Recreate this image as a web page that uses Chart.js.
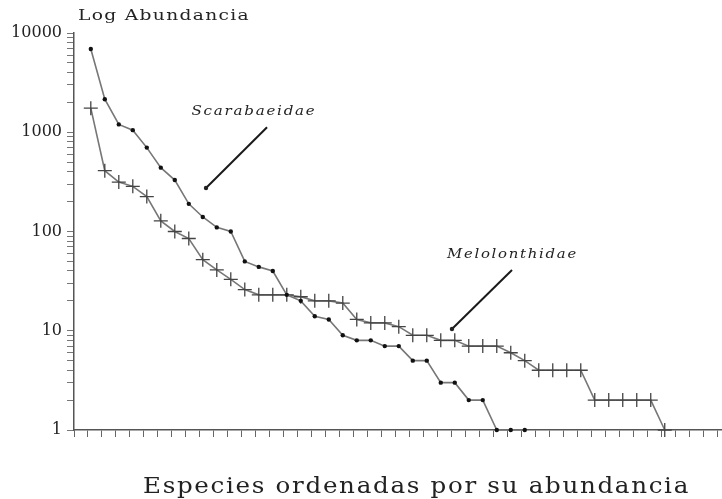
<!DOCTYPE html>
<html>
<head>
<meta charset="utf-8">
<script src="https://cdn.jsdelivr.net/npm/chart.js@4/dist/chart.umd.min.js"></script>
<style>
  body { margin: 0; background: #fff; }
  canvas { display: block; }
</style>
</head>
<body>
<canvas id="abundChart" width="722" height="499"></canvas>
<script>
// Species abundance per rank
const scarabaeidae = [6900, 2150, 1200, 1050, 700, 440, 330, 190, 140, 110, 100, 50, 44, 40, 23, 20,
  14, 13, 9, 8, 8, 7, 7, 5, 5, 3, 3, 2, 2, 1, 1, 1];
const melolonthidae = [1750, 410, 315, 285, 225, 128, 100, 85, 52, 41, 33, 26, 23, 23, 23, 22,
  20, 20, 19, 13, 12, 12, 11, 9, 9, 8, 8, 7, 7, 7, 6, 5, 4, 4, 4, 4, 2, 2, 2, 2, 2, 1];
const yMajorTicks = [1, 10, 100, 1000, 10000];
const yMinorSteps = [2, 3, 4, 5, 6, 7, 8, 9];
const xTickCount = 47;
const xShift = 0.2;

const yTicks = [];
yMajorTicks.forEach(function(m) {
  yTicks.push(m);
  if (m < 10000) yMinorSteps.forEach(function(s) { yTicks.push(m * s); });
});
const xTicks = [];
for (let k = 0; k < xTickCount; k++) xTicks.push(k - xShift);

function toPoints(arr) {
  return arr.map(function(v, i) { return { x: i + 1, y: v }; });
}

// draws text stretched horizontally so it spans the given width (wide slab face in the original)
function wideText(ctx, text, left, baseline, width, spacing) {
  ctx.letterSpacing = (spacing || 0) + 'px';
  const w = ctx.measureText(text).width;
  ctx.save();
  ctx.translate(left, baseline);
  ctx.scale(width / w, 1);
  ctx.textAlign = 'left';
  ctx.textBaseline = 'alphabetic';
  ctx.fillText(text, 0, 0);
  ctx.restore();
  ctx.letterSpacing = '0px';
}

const textPlugin = {
  id: 'texts',
  afterDraw(chart) {
    const ctx = chart.ctx;
    const xs = chart.scales.x, ys = chart.scales.y;
    const area = chart.chartArea;
    ctx.save();
    ctx.fillStyle = '#222';
    ctx.font = '14px "DejaVu Serif"';
    wideText(ctx, 'Log Abundancia', area.left + 4, area.top - 13, 172, 1);
    ctx.font = '22px "DejaVu Serif"';
    wideText(ctx, 'Especies ordenadas por su abundancia', 143, 493, 547, 1.5);

    // series labels with pointer lines
    const notes = [
      { text: 'Scarabaeidae', x: 12.66, y: 1670, w: 125, from: [13.59, 1125], to: [9.23, 274] },
      { text: 'Melolonthidae', x: 31.12, y: 60.6, w: 131, from: [31.09, 40.9], to: [26.8, 10.4] }
    ];
    notes.forEach(function(n) {
      ctx.font = 'italic 13px "DejaVu Serif"';
      const cx = xs.getPixelForValue(n.x), cy = ys.getPixelForValue(n.y);
      wideText(ctx, n.text, cx - n.w / 2, cy + 5, n.w, 1.5);
      const x1 = xs.getPixelForValue(n.from[0]), y1 = ys.getPixelForValue(n.from[1]);
      const x2 = xs.getPixelForValue(n.to[0]), y2 = ys.getPixelForValue(n.to[1]);
      ctx.strokeStyle = '#1a1a1a';
      ctx.lineWidth = 2;
      ctx.beginPath();
      ctx.moveTo(x1, y1);
      ctx.lineTo(x2, y2);
      ctx.stroke();
      ctx.beginPath();
      ctx.arc(x2, y2, 2.2, 0, Math.PI * 2);
      ctx.fill();
    });
    ctx.restore();
  }
};

const ctx = document.getElementById('abundChart').getContext('2d');
const abundChart = new Chart(ctx, {
  type: 'line',
  data: {
    datasets: [{
      label: 'Scarabaeidae',
      data: toPoints(scarabaeidae),
      borderColor: '#777',
      borderWidth: 1.6,
      pointStyle: 'circle',
      pointRadius: 2.2,
      pointBackgroundColor: '#111',
      pointBorderColor: '#111',
      pointBorderWidth: 0,
      tension: 0,
      clip: false
    }, {
      label: 'Melolonthidae',
      data: toPoints(melolonthidae),
      borderColor: '#777',
      borderWidth: 1.6,
      pointStyle: 'cross',
      pointRadius: 7,
      pointBorderColor: '#444',
      pointBorderWidth: 1.3,
      tension: 0,
      clip: false
    }]
  },
  options: {
    responsive: false,
    animation: false,
    devicePixelRatio: 1,
    layout: { autoPadding: false, padding: { top: 33, right: 0, bottom: 0, left: 0 } },
    plugins: {
      legend: { display: false },
      tooltip: { enabled: false }
    },
    scales: {
      x: {
        type: 'linear',
        min: -xShift,
        max: 46.29 - xShift,
        afterBuildTicks: function(scale) {
          scale.ticks = xTicks.map(function(v) { return { value: v }; });
        },
        afterFit: function(scale) {
          scale.height = 69;
          scale.paddingLeft = 0;
          scale.paddingRight = 0;
        },
        ticks: { display: false, autoSkip: false },
        grid: { drawOnChartArea: false, drawTicks: true, tickLength: 7, color: '#666', lineWidth: 1 },
        border: { display: true, color: '#555', width: 1.5 }
      },
      y: {
        type: 'logarithmic',
        min: 1,
        max: 10000,
        afterBuildTicks: function(scale) {
          scale.ticks = yTicks.map(function(v) { return { value: v, major: false }; });
        },
        afterFit: function(scale) {
          scale.width = 74;
          scale.paddingTop = 0;
          scale.paddingBottom = 0;
        },
        ticks: {
          autoSkip: false,
          padding: 5,
          color: '#222',
          font: { family: 'DejaVu Serif', size: 16 },
          callback: function(value) {
            return yMajorTicks.includes(value) ? String(value) : '';
          }
        },
        grid: { drawOnChartArea: false, drawTicks: true, tickLength: 7, color: '#777', lineWidth: 1 },
        border: { display: true, color: '#555', width: 1.5 }
      }
    }
  },
  plugins: [textPlugin]
});
</script>
</body>
</html>
